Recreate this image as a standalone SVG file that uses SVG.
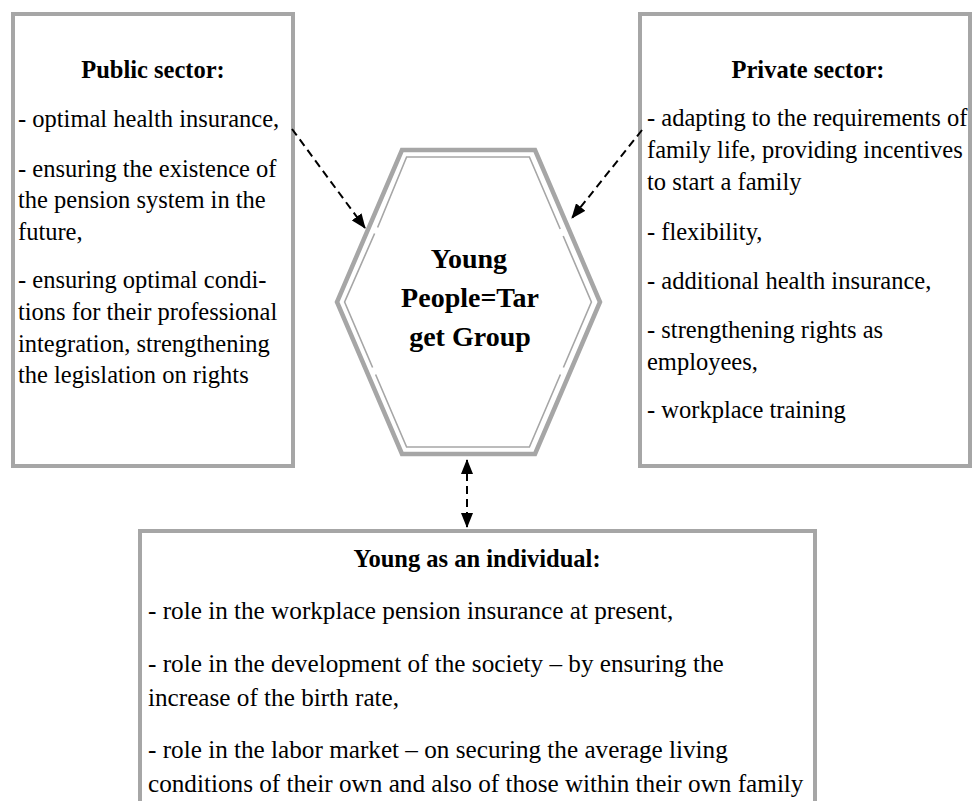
<svg xmlns="http://www.w3.org/2000/svg" width="972" height="801" viewBox="0 0 972 801">
  <style>
    .box { fill: #ffffff; stroke: #a6a6a6; stroke-width: 4; }
    .hex-outer { fill: #ffffff; stroke: #a6a6a6; stroke-width: 4.5; stroke-linejoin: miter; }
    .hex-inner { fill: none; stroke: #a6a6a6; stroke-width: 1.6; }
    .txt { font-family: "Liberation Serif", "Times New Roman", serif; font-size: 24.5px; fill: #000000; }
    .txt-lg { font-family: "Liberation Serif", "Times New Roman", serif; font-size: 25.2px; fill: #000000; }
    .head { font-family: "Liberation Serif", "Times New Roman", serif; font-size: 24.5px; font-weight: bold; fill: #000000; text-anchor: middle; }
    .center { font-family: "Liberation Serif", "Times New Roman", serif; font-size: 28px; font-weight: bold; fill: #000000; text-anchor: middle; }
    .link { fill: none; stroke: #000000; stroke-width: 2; stroke-dasharray: 8 5; }
  </style>
  <defs>
    <marker id="arrowEnd" viewBox="0 0 15 12" refX="14" refY="6" markerWidth="15" markerHeight="12" markerUnits="userSpaceOnUse" orient="auto">
      <path d="M0,0 L15,6 L0,12 Z" fill="#000000"/>
    </marker>
    <marker id="arrowStart" viewBox="0 0 15 12" refX="1" refY="6" markerWidth="15" markerHeight="12" markerUnits="userSpaceOnUse" orient="auto">
      <path d="M15,0 L0,6 L15,12 Z" fill="#000000"/>
    </marker>
  </defs>

  <rect width="972" height="801" fill="#ffffff"/>

  <!-- Public sector -->
  <g id="public-sector">
    <rect class="box" x="13" y="14" width="280" height="452"/>
    <text class="head" x="153" y="78">Public sector:</text>
    <text class="txt" x="18" y="127">- optimal health insurance,</text>
    <text class="txt" x="18" y="177">- ensuring the existence of</text>
    <text class="txt" x="18" y="208">the pension system in the</text>
    <text class="txt" x="18" y="240">future,</text>
    <text class="txt" x="18" y="288">- ensuring optimal condi-</text>
    <text class="txt" x="18" y="320">tions for their professional</text>
    <text class="txt" x="18" y="352">integration, strengthening</text>
    <text class="txt" x="18" y="383">the legislation on rights</text>
  </g>

  <!-- Private sector -->
  <g id="private-sector">
    <rect class="box" x="640" y="14" width="330" height="452"/>
    <text class="head" x="808" y="78">Private sector:</text>
    <text class="txt" x="647" y="126">- adapting to the requirements of</text>
    <text class="txt" x="647" y="158">family life, providing incentives</text>
    <text class="txt" x="647" y="190">to start a family</text>
    <text class="txt" x="647" y="240">- flexibility,</text>
    <text class="txt" x="647" y="289">- additional health insurance,</text>
    <text class="txt" x="647" y="338">- strengthening rights as</text>
    <text class="txt" x="647" y="370">employees,</text>
    <text class="txt" x="647" y="418">- workplace training</text>
  </g>

  <!-- Target group hexagon -->
  <g id="target-group">
    <polygon class="hex-outer" points="402,150 535,150 600,302 535,454 402,454 337,302"/>
    <!-- inner thin line, broken in four places -->
    <path class="hex-inner" d="M377.6,227.5 L406.6,157 L529.4,157 L560.2,229"/>
    <path class="hex-inner" d="M563.2,236 L591.4,302 L563.4,367.5"/>
    <path class="hex-inner" d="M560.4,374.5 L529.4,447 L406.6,447 L375.6,374.5"/>
    <path class="hex-inner" d="M372.6,367.5 L344.6,302 L374.6,233.5"/>
    <text class="center" x="469" y="268">Young</text>
    <text class="center" x="470" y="307">People=Tar</text>
    <text class="center" x="470" y="346">get Group</text>
  </g>

  <!-- Young as an individual -->
  <g id="individual">
    <rect class="box" x="140" y="531" width="675" height="300"/>
    <text class="head" x="477" y="567">Young as an individual:</text>
    <text class="txt-lg" x="148" y="619">- role in the workplace pension insurance at present,</text>
    <text class="txt-lg" x="148" y="672">- role in the development of the society – by ensuring the</text>
    <text class="txt-lg" x="148" y="706">increase of the birth rate,</text>
    <text class="txt-lg" x="148" y="758">- role in the labor market – on securing the average living</text>
    <text class="txt-lg" x="148" y="792">conditions of their own and also of those within their own family</text>
  </g>

  <!-- Connectors -->
  <g id="connectors">
    <line class="link" x1="292" y1="129" x2="365" y2="228" marker-end="url(#arrowEnd)"/>
    <line class="link" x1="642" y1="130" x2="572" y2="218" marker-end="url(#arrowEnd)"/>
    <line class="link" x1="467" y1="460" x2="467" y2="527" marker-start="url(#arrowStart)" marker-end="url(#arrowEnd)"/>
  </g>
</svg>
